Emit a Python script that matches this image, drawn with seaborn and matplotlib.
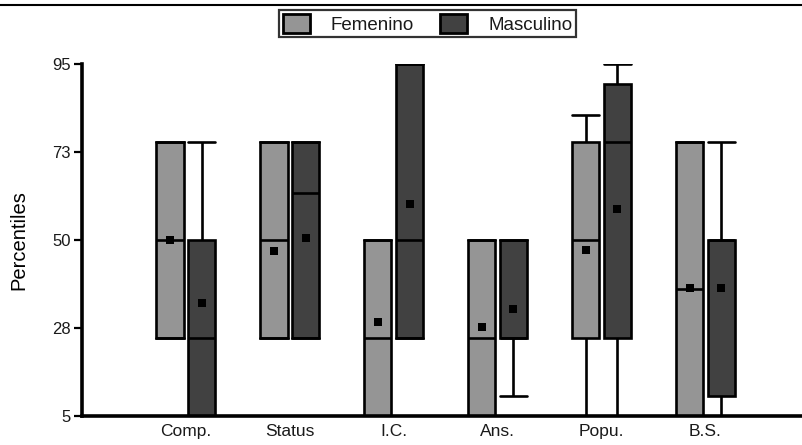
import numpy as np
import pandas as pd
import matplotlib
matplotlib.use("Agg")
import matplotlib.pyplot as plt
from matplotlib.lines import Line2D
import seaborn as sns

# Five-number summaries (percentile scores) per scale and sex
categories = ["Comp.", "Status", "I.C.", "Ans.", "Popu.", "B.S."]
sexes = ["Femenino", "Masculino"]

fem_low = [25, 25, 5, 5, 5, 5]
fem_q1 = [25, 25, 5, 5, 25, 5]
fem_median = [50, 50, 25, 25, 50, 37.5]
fem_q3 = [75, 75, 50, 50, 75, 75]
fem_high = [75, 75, 50, 50, 82, 75]
fem_mean = [50, 47.3, 29, 27.7, 47.4, 37.6]

masc_low = [5, 25, 25, 10, 5, 5]
masc_q1 = [5, 25, 25, 25, 25, 10]
masc_median = [25, 62, 50, 25, 75, 50]
masc_q3 = [50, 75, 95, 50, 90, 50]
masc_high = [75, 75, 95, 50, 95, 75]
masc_mean = [34, 50.4, 59.2, 32.4, 57.9, 37.6]

ytick_values = [5, 27.5, 50, 72.5, 95]
ytick_labels = ["5", "28", "50", "73", "95"]

# Long-form table: each box is built from its five summary points,
# so whiskers at the extremes reproduce min / Q1 / median / Q3 / max.
rows = []
summaries = {
    "Femenino": (fem_low, fem_q1, fem_median, fem_q3, fem_high),
    "Masculino": (masc_low, masc_q1, masc_median, masc_q3, masc_high),
}
for sex, parts in summaries.items():
    for i, cat in enumerate(categories):
        for p in parts:
            rows.append({"escala": cat, "sexo": sex, "percentil": p[i]})
df = pd.DataFrame(rows)

sns.set_style("white")
plt.rcParams["font.family"] = ["Liberation Sans", "DejaVu Sans"]

W, H = 802, 445
fig = plt.figure(figsize=(W / 100, H / 100), dpi=100)
ax = fig.add_axes([82 / W, 1 - 416 / H, 1 - 82 / W, (416 - 64) / H])

fem_color = "#959595"
masc_color = "#414141"
group_width = 0.61
gap = 0.14
box_width = group_width / 2 * (1 - gap)

sns.boxplot(
    data=df, x="escala", y="percentil", hue="sexo",
    order=categories, hue_order=sexes,
    palette=[fem_color, masc_color],
    width=group_width, gap=gap, whis=(0, 100),
    linecolor="black", linewidth=1.9, saturation=1,
    showfliers=False, capwidths=box_width,
    ax=ax,
)

# Mean markers, placed at the dodged box centres
pos = np.arange(len(categories))
offset = group_width / 4
ax.scatter(pos - offset, fem_mean, marker="s", s=30, color="black",
           linewidths=0, zorder=6)
ax.scatter(pos + offset, masc_mean, marker="s", s=30, color="black",
           linewidths=0, zorder=6)

ax.set_xlim(-1, 5.93)
ax.set_ylim(5, 95)
ax.set_yticks(ytick_values)
ax.set_yticklabels(ytick_labels)

for side in ["top", "right"]:
    ax.spines[side].set_visible(False)
for side in ["left", "bottom"]:
    ax.spines[side].set_linewidth(2.6)
    ax.spines[side].set_color("black")

ax.tick_params(axis="x", length=0, pad=6, labelsize=12.5, colors="#1a1a1a")
ax.tick_params(axis="y", length=6, width=1.6, pad=2, labelsize=12,
               colors="black", labelcolor="#1a1a1a", direction="out", left=True)
ax.set_xlabel("")
ax.set_ylabel("Percentiles", fontsize=14.5, color="black")
ax.yaxis.set_label_coords(-0.074, 0.5)

sns.move_legend(
    ax, "upper center",
    bbox_to_anchor=((263 + 592) / 2 / W, 1 - 10 / H),
    bbox_transform=fig.transFigure,
    ncol=2, title=None, frameon=True, fancybox=False,
    fontsize=13.5, handlelength=1.45, handleheight=1.2,
    handletextpad=1.1, columnspacing=1.4, borderpad=0.2,
    borderaxespad=0,
)
leg = ax.get_legend()
leg.get_frame().set_edgecolor("black")
leg.get_frame().set_linewidth(1.6)
for h in leg.legend_handles:
    h.set_edgecolor("black")
    h.set_linewidth(2)
for t in leg.get_texts():
    t.set_color("#1a1a1a")

# Rule under the heading band
fig.add_artist(Line2D([0, 1], [1 - 5 / H, 1 - 5 / H], color="black",
                      linewidth=1.5, transform=fig.transFigure))

fig.savefig("out.png", dpi=100)
